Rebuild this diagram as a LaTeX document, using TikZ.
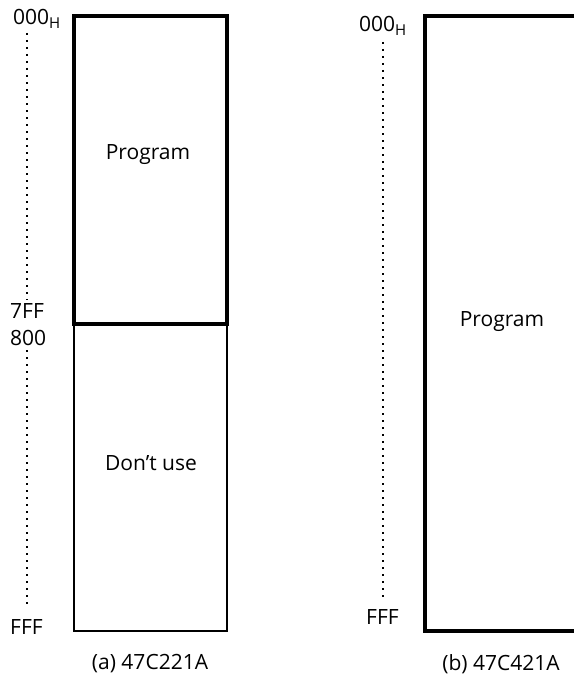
\documentclass[tikz,border=0pt]{standalone}
\usepackage{fontspec}
\setmainfont{Open Sans}
\newcommand{\subH}{\raisebox{-4.5pt}{\fontsize{15}{15}\selectfont H}}
\begin{document}
\begin{tikzpicture}[x=1pt,y=-1pt,
  thick box/.style={line width=3.5pt},
  thin box/.style={line width=1.2pt},
  dotline/.style={line width=2pt, dash pattern=on 2pt off 5pt},
  lbl/.style={font=\fontsize{21}{24}\selectfont, inner sep=0pt},
  addr/.style={font=\fontsize{21}{24}\selectfont, inner sep=0pt}]
\useasboundingbox (0,0) rectangle (574,677);
% left memory map
\coordinate (a1) at (74,16);
\coordinate (a2) at (227,16);
\coordinate (a3) at (74,324);
\coordinate (a4) at (227,324);
\coordinate (a5) at (74,631);
\coordinate (a6) at (227,631);
\draw[thin box] (a3) -- (a5) -- (a6) -- (a4);
\draw[thick box] (a3) -- (a1) -- (a2) -- (a4) -- cycle;
% right memory map
\coordinate (b1) at (574,16);
\coordinate (b2) at (425,16);
\coordinate (b3) at (425,631);
\coordinate (b4) at (574,631);
\draw[thick box] (b1) -- (b2) -- (b3) -- (b4);
% texts
\node[lbl] (p1) at (148,155) {Program};
\node[lbl] (du) at (151,463) {Don’t use};
\node[lbl] (p2) at (502,322) {Program};
\node[lbl] (ca) at (150,664) {(a) 47C221A};
\node[lbl] (cb) at (501,664) {(b) 47C421A};
\node[addr, anchor=west] (l000) at (13,19) {000\subH};
\node[addr, anchor=west] (l7ff) at (10,311) {7FF};
\node[addr, anchor=west] (l800) at (10,338) {800};
\node[addr, anchor=west] (lfff) at (10,627) {FFF};
\node[addr, anchor=west] (r000) at (359,26) {000\subH};
\node[addr, anchor=west] (rfff) at (366,617) {FFF};
% dotted lines
\coordinate (d1) at (27,33);
\coordinate (d2) at (27,300);
\coordinate (d3) at (27,350);
\coordinate (d4) at (27,606);
\coordinate (e1) at (383,42);
\coordinate (e2) at (383,597);
\draw[dotline] (d1) -- (d2);
\draw[dotline] (d3) -- (d4);
\draw[dotline] (e1) -- (e2);
\end{tikzpicture}
\end{document}
